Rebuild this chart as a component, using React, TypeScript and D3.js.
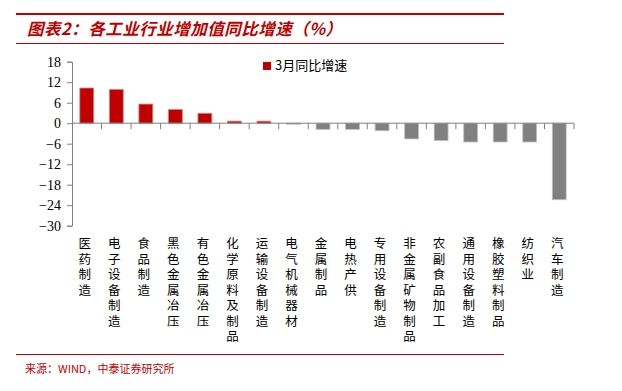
import { useEffect, useRef } from 'react';
import * as d3 from 'd3';

const categories = [
    "医药制造", "电子设备制造", "食品制造", "黑色金属冶压", "有色金属冶压",
    "化学原料及制品", "运输设备制造", "电气机械器材", "金属制品", "电热产供",
    "专用设备制造", "非金属矿物制品", "农副食品加工", "通用设备制造", "橡胶塑料制品",
    "纺织业", "汽车制造"
];
const growthMarch = [
    10.3, 9.9, 5.6, 4.0, 2.9,
    0.6, 0.6, -0.3, -1.8, -1.8,
    -2.2, -4.6, -5.1, -5.5, -5.5,
    -5.5, -22.4
];
const yTicks = [18, 12, 6, 0, -6, -12, -18, -24, -30];
const seriesName = "3月同比增速";
const title = "图表2：各工业行业增加值同比增速（%）";
const source = "来源：WIND，中泰证券研究所";

const W = 622, H = 391;
const red = "#C00000";
const grey = "#808080";

const App = () => {
    const ref = useRef<SVGSVGElement>(null);

    useEffect(() => {
        const svg = d3.select(ref.current);
        svg.selectAll("*").remove();

        // frame lines
        svg.append("line").attr("x1", 16).attr("x2", 504).attr("y1", 14).attr("y2", 14)
            .attr("stroke", red).attr("stroke-width", 2);
        svg.append("line").attr("x1", 16).attr("x2", 504).attr("y1", 43.5).attr("y2", 43.5)
            .attr("stroke", red).attr("stroke-width", 1);
        svg.append("line").attr("x1", 16).attr("x2", 504).attr("y1", 354.5).attr("y2", 354.5)
            .attr("stroke", red).attr("stroke-width", 1);

        svg.append("text")
            .attr("x", 27).attr("y", 35)
            .attr("fill", red)
            .style("font-family", "'Noto Sans CJK SC'")
            .style("font-size", "16.5px")
            .style("font-weight", "bold")
            .style("font-style", "italic")
            .style("letter-spacing", "0.5px")
            .text(title);

        svg.append("text")
            .attr("x", 25).attr("y", 373)
            .attr("fill", red)
            .style("font-family", "'Noto Sans CJK SC'")
            .style("font-size", "11px")
            .text(source);

        const x = d3.scaleBand<string>().domain(categories).range([72, 574]);
        const y = d3.scaleLinear().domain([-30, 18]).range([225.7, 61.7]);

        const g = svg.append("g");

        // y axis
        const yAxis = g.append("g")
            .attr("transform", "translate(72,0)")
            .call(d3.axisLeft(y).tickValues(yTicks).tickSize(5).tickPadding(6));
        yAxis.selectAll("path, line").attr("stroke", "#808080");
        yAxis.selectAll("text")
            .style("font-family", "'Liberation Serif'")
            .style("font-size", "14px")
            .attr("fill", "#000");

        // bars
        const bw = x.bandwidth() * 0.47;
        g.selectAll("rect.bar")
            .data(growthMarch)
            .join("rect")
            .attr("class", "bar")
            .attr("x", (d, i) => x(categories[i])! + (x.bandwidth() - bw) / 2)
            .attr("y", d => y(Math.max(0, d)))
            .attr("width", bw)
            .attr("height", d => Math.abs(y(d) - y(0)))
            .attr("fill", d => d >= 0 ? red : grey)
            .attr("stroke", d => d >= 0 ? "#e08080" : "#c0c0c0")
            .attr("stroke-width", 0.8);

        // x axis at zero
        const xAxis = g.append("g")
            .attr("transform", `translate(0,${y(0)})`);
        xAxis.append("line").attr("x1", 72).attr("x2", 574).attr("y1", 0).attr("y2", 0)
            .attr("stroke", "#808080");
        xAxis.selectAll("line.tick")
            .data(categories)
            .join("line")
            .attr("class", "tick")
            .attr("x1", c => x(c)! + x.step())
            .attr("x2", c => x(c)! + x.step())
            .attr("y1", 0).attr("y2", 6)
            .attr("stroke", "#808080");

        // vertical category labels
        g.append("g").selectAll("text")
            .data(categories)
            .join("text")
            .attr("x", c => x(c)! + x.bandwidth() / 2 - 2)
            .attr("y", 237)
            .style("writing-mode", "vertical-rl")
            .style("font-family", "'Noto Sans CJK SC'")
            .style("font-size", "12.5px")
            .style("letter-spacing", "3px")
            .attr("fill", "#000")
            .text(d => d);

        // legend
        svg.append("rect").attr("x", 263).attr("y", 62).attr("width", 8).attr("height", 8).attr("fill", red);
        svg.append("text")
            .attr("x", 275).attr("y", 70)
            .style("font-family", "'Noto Sans CJK SC'")
            .style("font-size", "13px")
            .attr("fill", "#000")
            .text(seriesName);
    }, []);

    return (
        <svg ref={ref} width={W} height={H}
            style={{ position: "absolute", left: 0, top: 0, background: "#fff" }} />
    );
};

export default App;
